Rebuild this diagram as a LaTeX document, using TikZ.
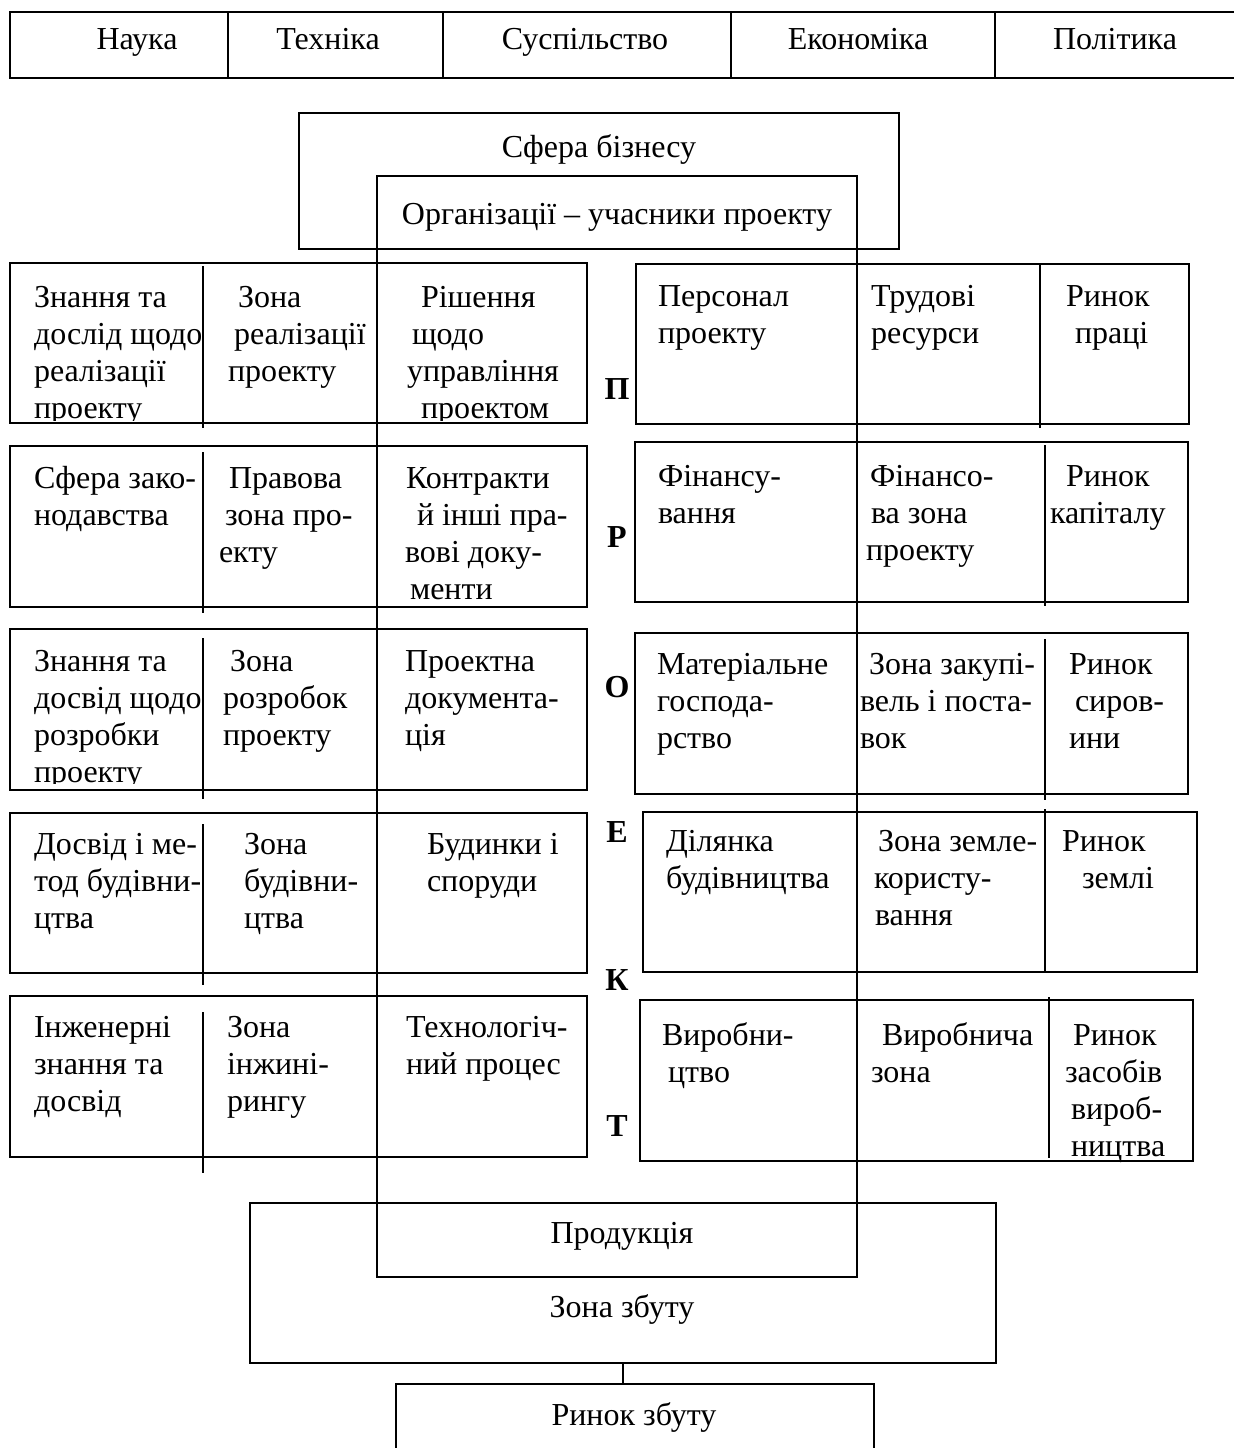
\documentclass[tikz,border=0pt]{standalone}
\usepackage{fontspec}
\setmainfont{Liberation Serif}
\newcommand\cf{\fontsize{16}{18.5}\selectfont}
\newcommand\ind[1]{\hspace*{#1pt}}
\newcommand\tp{\rule{0pt}{14pt}}
\begin{document}
\begin{tikzpicture}[x=0.5pt,y=-0.5pt,line width=1pt,
  cell/.style={inner sep=0pt,align=left,anchor=north west,font=\cf},
  ctr/.style={inner sep=0pt,anchor=base,font=\cf},
  lett/.style={inner sep=0pt,anchor=base,font=\cf\bfseries},
  frame/.style={draw,line width=1pt},
  thin/.style={line width=0.9pt},
  boxnode/.style={inner sep=0pt,outer sep=0pt}]
\useasboundingbox (0,0) rectangle (1234,1448);
% top table
\draw[line width=1.3pt] (1234,12) -- (10,12) -- (10,78) -- (1234,78);
\foreach \xx in {228,443,731,995} \draw[thin] (\xx,12) -- (\xx,78);
\node[ctr] (nauka) at (137,49) {Наука};
\node[ctr] (tekh) at (328,49) {Техніка};
\node[ctr] (susp) at (585,49) {Суспільство};
\node[ctr] (ekon) at (858,49) {Економіка};
\node[ctr] (polit) at (1115,49) {Політика};
% business sphere and organisations
\draw[frame] (299,113) rectangle (899,249);
\node[ctr] (sfera) at (599,157) {Сфера бізнесу};
\draw[frame] (377,176) rectangle (857,1277);
\node[ctr] (org) at (617,224) {Організації – учасники проекту};
% left boxes
\draw[frame] (10,263) rectangle (587,423); \draw (203,266) -- (203,428);
\draw[frame] (10,446) rectangle (587,607); \draw (203,452) -- (203,613);
\draw[frame] (10,629) rectangle (587,790); \draw (203,638) -- (203,799);
\draw[frame] (10,813) rectangle (587,973); \draw (203,824) -- (203,985);
\draw[frame] (10,996) rectangle (587,1157); \draw (203,1012) -- (203,1173);
% right boxes
\draw[frame] (636,264) rectangle (1189,424); \draw (1040,264) -- (1040,428);
\draw[frame] (635,442) rectangle (1188,602); \draw (1045,445) -- (1045,606);
\draw[frame] (635,633) rectangle (1188,794); \draw (1045,639) -- (1045,800);
\draw[frame] (643,812) rectangle (1197,972); \draw (1045,809) -- (1045,972);
\draw[frame] (640,1000) rectangle (1193,1161); \draw (1049,997) -- (1049,1158);
% letters
\node[lett] (lp) at (617,399) {П};
\node[lett] (lr) at (617,547) {Р};
\node[lett] (lo) at (617,697) {О};
\node[lett] (le) at (617,842) {Е};
\node[lett] (lk) at (617,990) {К};
\node[lett] (lt) at (617,1136) {Т};
% left cells
\begin{scope}
\clip (10,263) rectangle (587,420);
\node[cell] (l1a) at (33,278) {\tp Знання та\\дослід щодо\\реалізації\\проекту};
\node[cell] (l1c) at (406,278) {\tp\ind{7}Рішення\\\ind{2.5}щодо\\управління\\\ind{7}проектом};
\end{scope}
\node[cell] (l1b) at (227,278) {\tp\ind{5}Зона\\\ind{3}реалізації\\проекту};
\node[cell] (l2a) at (33,459) {\tp Сфера зако-\\нодавства};
\node[cell] (l2b) at (218,459) {\tp\ind{5}Правова\\\ind{3}зона про-\\екту};
\node[cell] (l2c) at (404,459) {\tp\ind{0.5}Контракти\\\ind{6}й інші пра-\\вові доку-\\\ind{2.5}менти};
\begin{scope}
\clip (10,629) rectangle (587,783);
\node[cell] (l3a) at (33,642) {\tp Знання та\\досвід щодо\\розробки\\проекту};
\end{scope}
\node[cell] (l3b) at (222,642) {\tp\ind{3.5}Зона\\розробок\\проекту};
\node[cell] (l3c) at (404,642) {\tp Проектна\\документа-\\ція};
\node[cell] (l4a) at (33,825) {\tp Досвід і ме-\\тод будівни-\\цтва};
\node[cell] (l4b) at (243,825) {\tp Зона\\будівни-\\цтва};
\node[cell] (l4c) at (426,825) {\tp Будинки і\\споруди};
\node[cell] (l5a) at (33,1008) {\tp Інженерні\\знання та\\досвід};
\node[cell] (l5b) at (226,1008) {\tp Зона\\інжині-\\рингу};
\node[cell] (l5c) at (405,1008) {\tp Технологіч-\\ний процес};
% right cells
\node[cell] (r1a) at (657,277) {\tp Персонал\\проекту};
\node[cell] (r1b) at (870,277) {\tp Трудові\\ресурси};
\node[cell] (r1c) at (1065,277) {\tp Ринок\\\ind{4.5}праці};
\node[cell] (r2a) at (657,457) {\tp Фінансу-\\вання};
\node[cell] (r2b) at (865,457) {\tp\ind{2}Фінансо-\\\ind{2.5}ва зона\\проекту};
\node[cell] (r2c) at (1049,457) {\tp\ind{8}Ринок\\капіталу};
\node[cell] (r3a) at (656,645) {\tp Матеріальне\\господа-\\рство};
\node[cell] (r3b) at (859,645) {\tp\ind{4.5}Зона закупі-\\вель і поста-\\вок};
\node[cell] (r3c) at (1068,645) {\tp Ринок\\\ind{3}сиров-\\ини};
\node[cell] (r4a) at (665,822) {\tp Ділянка\\будівництва};
\node[cell] (r4b) at (873,822) {\tp\ind{2}Зона земле-\\користу-\\\ind{0.5}вання};
\node[cell] (r4c) at (1061,822) {\tp Ринок\\\ind{10}землі};
\node[cell] (r5a) at (661,1016) {\tp Виробни-\\\ind{3}цтво};
\node[cell] (r5b) at (870,1016) {\tp\ind{5.5}Виробнича\\зона};
\node[cell] (r5c) at (1064,1016) {\tp\ind{4}Ринок\\засобів\\\ind{3}вироб-\\\ind{3}ництва};
% bottom
\node[ctr] (prod) at (622,1243) {Продукція};
\node[boxnode,frame,minimum width=373pt,minimum height=80pt] (zbut) at (623,1283) {};
\node[ctr] (zbuttxt) at (622,1317) {Зона збуту};
\node[boxnode,minimum width=239pt,minimum height=32pt] (rynok) at (635,1416) {};
\draw (rynok.south west) -- (rynok.north west) -- (rynok.north east) -- (rynok.south east);
\node[ctr] (rynoktxt) at (634,1425) {Ринок збуту};
\draw (zbut.south) -- (zbut.south |- rynok.north);
\end{tikzpicture}
\end{document}
